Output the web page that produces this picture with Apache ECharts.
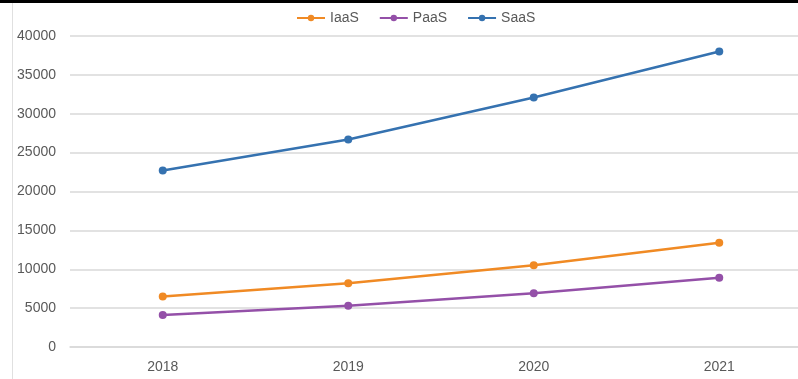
<!DOCTYPE html>
<html>
<head>
<meta charset="utf-8">
<script src="https://cdn.jsdelivr.net/npm/echarts@6/dist/echarts.min.js"></script>
<style>
	html, body { margin: 0; padding: 0; background: #fff; overflow: hidden; }
	#chart { width: 812px; height: 379px; }
</style>
</head>
<body>
<div id="chart"></div>
<script>
// 数据
const years = ['2018', '2019', '2020', '2021'];
const iaas = [6500, 8200, 10500, 13400];
const paas = [4100, 5300, 6900, 8900];
const saas = [22700, 26700, 32100, 38000];

const font = '"Liberation Sans", sans-serif';
const textColor = '#595959';
const gridColor = '#d9d9d9';

const makeSeries = (name, data, color) => ({
	name: name,
	type: 'line',
	data: data,
	symbol: 'circle',
	symbolSize: 8,
	lineStyle: { width: 2.5, color: color },
	itemStyle: { color: color },
});

const myChart = echarts.init(document.getElementById('chart'));
const option = {
	animation: false,
	backgroundColor: '#fff',
	legend: {
		top: 6,
		left: 291,
		itemWidth: 28,
		itemHeight: 8,
		itemGap: 20,
		textStyle: { fontFamily: font, fontSize: 14, color: textColor },
		data: ['IaaS', 'PaaS', 'SaaS'],
	},
	grid: {
		top: 36,
		bottom: 32,
		left: 70,
		right: 0,
	},
	xAxis: {
		type: 'category',
		boundaryGap: true,
		data: years,
		axisLine: { lineStyle: { color: gridColor, width: 1.5 } },
		axisTick: { show: false },
		axisLabel: { fontFamily: font, fontSize: 14, color: textColor, margin: 13 },
	},
	yAxis: {
		type: 'value',
		min: 0,
		max: 40000,
		interval: 5000,
		axisLine: { show: false },
		axisTick: { show: false },
		splitLine: { lineStyle: { color: gridColor, width: 1.5 } },
		axisLabel: { fontFamily: font, fontSize: 14, color: textColor, margin: 14, formatter: (v) => String(v) },
	},
	series: [
		makeSeries('IaaS', iaas, '#f08a24'),
		makeSeries('PaaS', paas, '#9450a8'),
		makeSeries('SaaS', saas, '#3572b0'),
	],
	graphic: [
		{ type: 'rect', left: 0, top: 0, shape: { width: 812, height: 3 }, style: { fill: '#000' } },
		{ type: 'rect', left: 12, top: 3, shape: { width: 1, height: 376 }, style: { fill: '#e0e0e0' } },
	],
};
myChart.setOption(option);
</script>
</body>
</html>
